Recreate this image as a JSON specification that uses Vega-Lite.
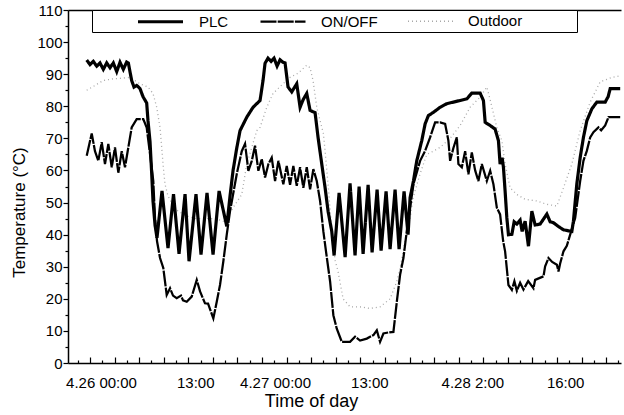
{
 "$schema": "https://vega.github.io/schema/vega-lite/v6.json",
 "width": 553, "height": 353,
 "autosize": {"type": "none"},
 "padding": {"left": 68, "top": 10, "right": 3, "bottom": 52},
 "config": {
  "font": "Liberation Sans",
  "view": {"stroke": null},
  "axis": {"domainColor": "black", "tickColor": "black", "labelColor": "black", "titleColor": "black", "titleFontWeight": "normal", "grid": false, "domainWidth": 1.5, "tickWidth": 1.2},
  "legend": {"titleOrient": "left", "titlePadding": 44, "orient": "none", "legendX": 24, "legendY": 0, "direction": "horizontal", "strokeColor": "black", "fillColor": "white", "padding": 2, "symbolType": "M-3,0H3", "symbolSize": 225, "symbolOffset": 13, "labelFontSize": 15, "labelOffset": 29, "columnPadding": 27, "labelLimit": 400}
 },
 "data": {"values": [
{"s":"PLC","t":-1.97,"v":94.4},{"s":"PLC","t":-1.52,"v":93},{"s":"PLC","t":-1.06,"v":94},{"s":"PLC","t":-0.59,"v":92.5},{"s":"PLC","t":-0.14,"v":93.5},{"s":"PLC","t":0.32,"v":91.5},{"s":"PLC","t":0.79,"v":93.5},{"s":"PLC","t":1.24,"v":92},{"s":"PLC","t":1.7,"v":93.5},{"s":"PLC","t":2.17,"v":90.8},{"s":"PLC","t":2.62,"v":93.7},{"s":"PLC","t":3.08,"v":91.5},{"s":"PLC","t":3.54,"v":93.8},{"s":"PLC","t":3.77,"v":93.5},{"s":"PLC","t":4.23,"v":88},{"s":"PLC","t":4.55,"v":86},{"s":"PLC","t":4.92,"v":86.5},{"s":"PLC","t":5.38,"v":85.5},{"s":"PLC","t":5.79,"v":83},{"s":"PLC","t":6.3,"v":81},{"s":"PLC","t":6.48,"v":75.5},{"s":"PLC","t":6.76,"v":69},{"s":"PLC","t":6.99,"v":59},{"s":"PLC","t":7.17,"v":50.5},{"s":"PLC","t":7.45,"v":43},{"s":"PLC","t":7.72,"v":39},{"s":"PLC","t":8.41,"v":53.6},{"s":"PLC","t":9.24,"v":35.8},{"s":"PLC","t":10.0,"v":52.6},{"s":"PLC","t":10.76,"v":34},{"s":"PLC","t":11.59,"v":52.6},{"s":"PLC","t":12.14,"v":31.7},{"s":"PLC","t":13.1,"v":52.6},{"s":"PLC","t":13.79,"v":33.8},{"s":"PLC","t":14.62,"v":53},{"s":"PLC","t":15.45,"v":33.8},{"s":"PLC","t":16.28,"v":53.6},{"s":"PLC","t":17.34,"v":42.6},{"s":"PLC","t":17.79,"v":52},{"s":"PLC","t":18.21,"v":60},{"s":"PLC","t":18.72,"v":67},{"s":"PLC","t":19.17,"v":72.4},{"s":"PLC","t":20.1,"v":76.6},{"s":"PLC","t":20.97,"v":79.7},{"s":"PLC","t":21.93,"v":81.8},{"s":"PLC","t":22.34,"v":88},{"s":"PLC","t":22.62,"v":93.4},{"s":"PLC","t":23.03,"v":95},{"s":"PLC","t":23.45,"v":94},{"s":"PLC","t":23.86,"v":95},{"s":"PLC","t":24.28,"v":92.5},{"s":"PLC","t":24.69,"v":94.5},{"s":"PLC","t":25.1,"v":93.7},{"s":"PLC","t":25.38,"v":93.5},{"s":"PLC","t":25.79,"v":86},{"s":"PLC","t":26.3,"v":84.5},{"s":"PLC","t":26.99,"v":87},{"s":"PLC","t":27.45,"v":79.7},{"s":"PLC","t":27.86,"v":82},{"s":"PLC","t":28.37,"v":84},{"s":"PLC","t":28.83,"v":78.7},{"s":"PLC","t":29.52,"v":78},{"s":"PLC","t":29.93,"v":70.3},{"s":"PLC","t":30.44,"v":62},{"s":"PLC","t":30.9,"v":54.6},{"s":"PLC","t":31.31,"v":47.3},{"s":"PLC","t":31.82,"v":41},{"s":"PLC","t":32.14,"v":33.5},{"s":"PLC","t":32.83,"v":53},{"s":"PLC","t":33.66,"v":33},{"s":"PLC","t":34.34,"v":56},{"s":"PLC","t":35.03,"v":33.5},{"s":"PLC","t":35.59,"v":55},{"s":"PLC","t":36.14,"v":34},{"s":"PLC","t":36.83,"v":55.5},{"s":"PLC","t":37.38,"v":34.5},{"s":"PLC","t":38.07,"v":54},{"s":"PLC","t":38.62,"v":35},{"s":"PLC","t":39.31,"v":53.5},{"s":"PLC","t":39.86,"v":35.5},{"s":"PLC","t":40.55,"v":54},{"s":"PLC","t":41.1,"v":35.5},{"s":"PLC","t":41.79,"v":53.5},{"s":"PLC","t":42.34,"v":40},{"s":"PLC","t":42.62,"v":51.5},{"s":"PLC","t":43.08,"v":56.7},{"s":"PLC","t":43.54,"v":63},{"s":"PLC","t":44.23,"v":69.3},{"s":"PLC","t":44.69,"v":74.5},{"s":"PLC","t":45.14,"v":77.1},{"s":"PLC","t":45.83,"v":78.1},{"s":"PLC","t":46.76,"v":79.7},{"s":"PLC","t":47.68,"v":80.8},{"s":"PLC","t":48.59,"v":81.3},{"s":"PLC","t":49.52,"v":81.8},{"s":"PLC","t":50.44,"v":82.3},{"s":"PLC","t":51.13,"v":84.1},{"s":"PLC","t":52.28,"v":84.1},{"s":"PLC","t":52.73,"v":81.8},{"s":"PLC","t":52.97,"v":75},{"s":"PLC","t":53.66,"v":74},{"s":"PLC","t":54.34,"v":72.9},{"s":"PLC","t":54.8,"v":69.3},{"s":"PLC","t":55.03,"v":62},{"s":"PLC","t":55.31,"v":64},{"s":"PLC","t":55.49,"v":61},{"s":"PLC","t":55.72,"v":53.6},{"s":"PLC","t":55.96,"v":45.2},{"s":"PLC","t":56.18,"v":40},{"s":"PLC","t":56.65,"v":40.1},{"s":"PLC","t":56.97,"v":44},{"s":"PLC","t":57.34,"v":43.3},{"s":"PLC","t":57.79,"v":44.5},{"s":"PLC","t":58.07,"v":41},{"s":"PLC","t":58.48,"v":44.2},{"s":"PLC","t":58.94,"v":36.4},{"s":"PLC","t":59.41,"v":47.3},{"s":"PLC","t":59.86,"v":43},{"s":"PLC","t":60.55,"v":43.3},{"s":"PLC","t":61.48,"v":46.4},{"s":"PLC","t":61.93,"v":44},{"s":"PLC","t":62.39,"v":43.7},{"s":"PLC","t":63.03,"v":42.6},{"s":"PLC","t":63.77,"v":41.5},{"s":"PLC","t":64.92,"v":41},{"s":"PLC","t":65.14,"v":44.2},{"s":"PLC","t":65.61,"v":55.8},{"s":"PLC","t":66.07,"v":64},{"s":"PLC","t":66.52,"v":70.3},{"s":"PLC","t":66.99,"v":75.5},{"s":"PLC","t":67.68,"v":79.2},{"s":"PLC","t":68.37,"v":81.3},{"s":"PLC","t":69.52,"v":81.3},{"s":"PLC","t":69.93,"v":83},{"s":"PLC","t":70.21,"v":85.5},{"s":"PLC","t":71.59,"v":85.5},
{"s":"ON/OFF","t":-1.97,"v":64.6},{"s":"ON/OFF","t":-1.28,"v":71.5},{"s":"ON/OFF","t":-0.83,"v":66},{"s":"ON/OFF","t":-0.37,"v":63},{"s":"ON/OFF","t":0.1,"v":68.8},{"s":"ON/OFF","t":0.55,"v":62},{"s":"ON/OFF","t":1.01,"v":68.3},{"s":"ON/OFF","t":1.48,"v":61},{"s":"ON/OFF","t":1.93,"v":67.2},{"s":"ON/OFF","t":2.39,"v":59.3},{"s":"ON/OFF","t":2.86,"v":66},{"s":"ON/OFF","t":3.31,"v":61},{"s":"ON/OFF","t":3.77,"v":67.2},{"s":"ON/OFF","t":4.23,"v":73.4},{"s":"ON/OFF","t":4.92,"v":76},{"s":"ON/OFF","t":5.83,"v":76},{"s":"ON/OFF","t":6.3,"v":73.4},{"s":"ON/OFF","t":6.76,"v":65.1},{"s":"ON/OFF","t":7.21,"v":56.7},{"s":"ON/OFF","t":7.45,"v":45},{"s":"ON/OFF","t":7.72,"v":38},{"s":"ON/OFF","t":8.14,"v":32.7},{"s":"ON/OFF","t":8.59,"v":29.6},{"s":"ON/OFF","t":9.06,"v":21.2},{"s":"ON/OFF","t":9.52,"v":23.3},{"s":"ON/OFF","t":9.93,"v":21},{"s":"ON/OFF","t":10.44,"v":20.2},{"s":"ON/OFF","t":11.03,"v":21},{"s":"ON/OFF","t":11.31,"v":19.5},{"s":"ON/OFF","t":11.82,"v":19.1},{"s":"ON/OFF","t":12.51,"v":20.7},{"s":"ON/OFF","t":13.2,"v":25.9},{"s":"ON/OFF","t":13.66,"v":22.3},{"s":"ON/OFF","t":14.34,"v":18.6},{"s":"ON/OFF","t":14.76,"v":18.5},{"s":"ON/OFF","t":15.49,"v":13.9},{"s":"ON/OFF","t":15.96,"v":19.1},{"s":"ON/OFF","t":16.41,"v":24.3},{"s":"ON/OFF","t":16.87,"v":31.7},{"s":"ON/OFF","t":17.34,"v":40},{"s":"ON/OFF","t":17.79,"v":47.3},{"s":"ON/OFF","t":18.72,"v":58.9},{"s":"ON/OFF","t":19.41,"v":66},{"s":"ON/OFF","t":19.86,"v":68.3},{"s":"ON/OFF","t":20.32,"v":59.9},{"s":"ON/OFF","t":20.79,"v":63},{"s":"ON/OFF","t":21.24,"v":67.7},{"s":"ON/OFF","t":21.7,"v":59.9},{"s":"ON/OFF","t":22.17,"v":63.6},{"s":"ON/OFF","t":22.62,"v":57.8},{"s":"ON/OFF","t":23.08,"v":62},{"s":"ON/OFF","t":23.54,"v":64},{"s":"ON/OFF","t":24.0,"v":56.7},{"s":"ON/OFF","t":24.46,"v":63},{"s":"ON/OFF","t":25.14,"v":55.7},{"s":"ON/OFF","t":25.61,"v":61.4},{"s":"ON/OFF","t":26.07,"v":55.5},{"s":"ON/OFF","t":26.52,"v":61.4},{"s":"ON/OFF","t":26.99,"v":55.2},{"s":"ON/OFF","t":27.45,"v":61},{"s":"ON/OFF","t":27.9,"v":54.6},{"s":"ON/OFF","t":28.37,"v":61},{"s":"ON/OFF","t":28.83,"v":54.1},{"s":"ON/OFF","t":29.28,"v":60.4},{"s":"ON/OFF","t":29.75,"v":56.7},{"s":"ON/OFF","t":30.21,"v":50.5},{"s":"ON/OFF","t":30.66,"v":41},{"s":"ON/OFF","t":31.13,"v":33},{"s":"ON/OFF","t":31.59,"v":25.4},{"s":"ON/OFF","t":32.04,"v":14.9},{"s":"ON/OFF","t":32.51,"v":10.7},{"s":"ON/OFF","t":33.2,"v":6.6},{"s":"ON/OFF","t":34.34,"v":6.6},{"s":"ON/OFF","t":35.03,"v":8.2},{"s":"ON/OFF","t":35.72,"v":7},{"s":"ON/OFF","t":36.65,"v":7.6},{"s":"ON/OFF","t":37.56,"v":8.7},{"s":"ON/OFF","t":38.03,"v":10.2},{"s":"ON/OFF","t":38.48,"v":6.6},{"s":"ON/OFF","t":38.94,"v":9.2},{"s":"ON/OFF","t":39.59,"v":9.5},{"s":"ON/OFF","t":40.32,"v":9.7},{"s":"ON/OFF","t":40.79,"v":19.1},{"s":"ON/OFF","t":41.24,"v":27.5},{"s":"ON/OFF","t":41.7,"v":32.7},{"s":"ON/OFF","t":42.39,"v":45.2},{"s":"ON/OFF","t":42.62,"v":48.4},{"s":"ON/OFF","t":43.08,"v":55.7},{"s":"ON/OFF","t":44.0,"v":63},{"s":"ON/OFF","t":44.69,"v":66.1},{"s":"ON/OFF","t":45.38,"v":70.3},{"s":"ON/OFF","t":46.07,"v":75},{"s":"ON/OFF","t":46.76,"v":75},{"s":"ON/OFF","t":47.45,"v":74.5},{"s":"ON/OFF","t":47.9,"v":69.3},{"s":"ON/OFF","t":48.14,"v":63},{"s":"ON/OFF","t":48.59,"v":67},{"s":"ON/OFF","t":49.06,"v":70.3},{"s":"ON/OFF","t":49.28,"v":62},{"s":"ON/OFF","t":49.75,"v":61},{"s":"ON/OFF","t":50.21,"v":66},{"s":"ON/OFF","t":50.66,"v":58.8},{"s":"ON/OFF","t":51.13,"v":65.6},{"s":"ON/OFF","t":51.59,"v":60},{"s":"ON/OFF","t":52.04,"v":56.7},{"s":"ON/OFF","t":52.51,"v":62},{"s":"ON/OFF","t":53.2,"v":56.7},{"s":"ON/OFF","t":53.66,"v":59.9},{"s":"ON/OFF","t":54.11,"v":55.7},{"s":"ON/OFF","t":54.58,"v":48.4},{"s":"ON/OFF","t":55.03,"v":46.3},{"s":"ON/OFF","t":55.45,"v":38},{"s":"ON/OFF","t":55.72,"v":34.8},{"s":"ON/OFF","t":56.18,"v":24.3},{"s":"ON/OFF","t":56.65,"v":22.8},{"s":"ON/OFF","t":57.0,"v":25.5},{"s":"ON/OFF","t":57.34,"v":22.5},{"s":"ON/OFF","t":57.79,"v":25},{"s":"ON/OFF","t":58.25,"v":22.9},{"s":"ON/OFF","t":58.9,"v":25.5},{"s":"ON/OFF","t":59.63,"v":23.3},{"s":"ON/OFF","t":59.86,"v":25.9},{"s":"ON/OFF","t":61.01,"v":27},{"s":"ON/OFF","t":61.24,"v":30.1},{"s":"ON/OFF","t":61.7,"v":32.7},{"s":"ON/OFF","t":62.21,"v":31.5},{"s":"ON/OFF","t":62.86,"v":30.6},{"s":"ON/OFF","t":63.08,"v":28.5},{"s":"ON/OFF","t":63.31,"v":31},{"s":"ON/OFF","t":63.77,"v":34.8},{"s":"ON/OFF","t":64.23,"v":36.5},{"s":"ON/OFF","t":64.69,"v":40},{"s":"ON/OFF","t":65.38,"v":45.2},{"s":"ON/OFF","t":66.07,"v":56.7},{"s":"ON/OFF","t":66.52,"v":63},{"s":"ON/OFF","t":66.99,"v":66.1},{"s":"ON/OFF","t":67.45,"v":70.3},{"s":"ON/OFF","t":67.9,"v":71.9},{"s":"ON/OFF","t":68.59,"v":73.4},{"s":"ON/OFF","t":68.97,"v":72.5},{"s":"ON/OFF","t":69.52,"v":74},{"s":"ON/OFF","t":69.97,"v":76.6},{"s":"ON/OFF","t":71.59,"v":76.6},
{"s":"Outdoor","t":-1.97,"v":85},{"s":"Outdoor","t":-0.83,"v":86.5},{"s":"Outdoor","t":0.28,"v":88},{"s":"Outdoor","t":1.52,"v":88.5},{"s":"Outdoor","t":2.62,"v":88.7},{"s":"Outdoor","t":4.0,"v":89},{"s":"Outdoor","t":5.38,"v":87},{"s":"Outdoor","t":6.48,"v":86},{"s":"Outdoor","t":7.17,"v":84},{"s":"Outdoor","t":7.68,"v":79.7},{"s":"Outdoor","t":8.14,"v":73.4},{"s":"Outdoor","t":8.37,"v":67.2},{"s":"Outdoor","t":8.59,"v":61},{"s":"Outdoor","t":8.83,"v":55.7},{"s":"Outdoor","t":9.24,"v":52},{"s":"Outdoor","t":10.21,"v":48},{"s":"Outdoor","t":11.59,"v":46},{"s":"Outdoor","t":12.97,"v":45},{"s":"Outdoor","t":14.34,"v":45},{"s":"Outdoor","t":15.72,"v":45},{"s":"Outdoor","t":17.1,"v":44},{"s":"Outdoor","t":18.21,"v":48.4},{"s":"Outdoor","t":19.41,"v":52.5},{"s":"Outdoor","t":20.1,"v":62},{"s":"Outdoor","t":20.79,"v":67.2},{"s":"Outdoor","t":21.48,"v":72.4},{"s":"Outdoor","t":21.93,"v":73.4},{"s":"Outdoor","t":22.86,"v":79.7},{"s":"Outdoor","t":23.72,"v":84},{"s":"Outdoor","t":25.1,"v":87},{"s":"Outdoor","t":26.07,"v":89},{"s":"Outdoor","t":27.17,"v":90.3},{"s":"Outdoor","t":28.37,"v":92.8},{"s":"Outdoor","t":28.83,"v":92},{"s":"Outdoor","t":29.24,"v":88},{"s":"Outdoor","t":29.75,"v":79.7},{"s":"Outdoor","t":30.66,"v":71.5},{"s":"Outdoor","t":30.9,"v":66.1},{"s":"Outdoor","t":31.35,"v":54.6},{"s":"Outdoor","t":31.86,"v":40},{"s":"Outdoor","t":32.28,"v":32},{"s":"Outdoor","t":32.69,"v":28.5},{"s":"Outdoor","t":33.38,"v":20},{"s":"Outdoor","t":34.34,"v":17.5},{"s":"Outdoor","t":35.72,"v":17.5},{"s":"Outdoor","t":37.1,"v":17},{"s":"Outdoor","t":38.48,"v":17.5},{"s":"Outdoor","t":39.86,"v":20},{"s":"Outdoor","t":40.79,"v":25.4},{"s":"Outdoor","t":41.24,"v":29.6},{"s":"Outdoor","t":41.93,"v":38},{"s":"Outdoor","t":42.62,"v":45},{"s":"Outdoor","t":43.03,"v":51.5},{"s":"Outdoor","t":44.0,"v":59},{"s":"Outdoor","t":44.92,"v":65},{"s":"Outdoor","t":45.83,"v":66},{"s":"Outdoor","t":46.76,"v":67.2},{"s":"Outdoor","t":48.14,"v":70},{"s":"Outdoor","t":49.52,"v":74},{"s":"Outdoor","t":50.9,"v":79.7},{"s":"Outdoor","t":52.28,"v":82.9},{"s":"Outdoor","t":53.2,"v":86},{"s":"Outdoor","t":53.66,"v":82},{"s":"Outdoor","t":54.58,"v":73.4},{"s":"Outdoor","t":55.27,"v":69.3},{"s":"Outdoor","t":55.72,"v":62},{"s":"Outdoor","t":56.41,"v":54.6},{"s":"Outdoor","t":57.34,"v":52.5},{"s":"Outdoor","t":58.48,"v":51},{"s":"Outdoor","t":60.1,"v":50.5},{"s":"Outdoor","t":61.38,"v":49.5},{"s":"Outdoor","t":62.86,"v":48.9},{"s":"Outdoor","t":63.77,"v":54.6},{"s":"Outdoor","t":64.92,"v":62},{"s":"Outdoor","t":66.07,"v":72.4},{"s":"Outdoor","t":67.45,"v":81.3},{"s":"Outdoor","t":68.83,"v":87.6},{"s":"Outdoor","t":70.44,"v":89},{"s":"Outdoor","t":71.59,"v":89.5}
 ]},
 "encoding": {
  "y": {"field": "v", "type": "quantitative", "scale": {"domain": [0, 110], "nice": false, "zero": false},
   "axis": {"title": "Temperature (°C)", "values": [0,5,10,15,20,25,30,35,40,45,50,55,60,65,70,75,80,85,90,95,100,105,110],
    "labelExpr": "datum.value % 10 === 0 ? datum.label : ''",
    "tickSize": {"condition": {"test": "datum.value % 10 === 0", "value": 5}, "value": 3},
    "labelFontSize": 15, "titleFontSize": 17, "labelPadding": 1, "titlePadding": 8, "labelFlush": false, "titleY": 202}},
  "color": {"field": "s", "type": "nominal", "scale": {"domain": ["PLC", "ON/OFF", "Outdoor"], "range": ["#000000", "#000000", "#a8a8a8"]},
   "legend": {"title": " ", "encode": {"symbols": {"update": {"shape": {"signal": "datum.label === 'Outdoor' ? 'M-3,0H3M18.9,0' : 'M-3,0H3'"}}}}}},
  "strokeDash": {"field": "s", "type": "nominal", "scale": {"domain": ["PLC", "ON/OFF", "Outdoor"], "range": [[1, 0], [16, 1.2], [1, 3]]},
   "legend": {"title": " ", "encode": {"symbols": {"update": {"shape": {"signal": "datum.label === 'Outdoor' ? 'M-3,0H3M18.9,0' : 'M-3,0H3'"}}}}}},
  "strokeWidth": {"field": "s", "type": "ordinal", "scale": {"domain": ["PLC", "ON/OFF", "Outdoor"], "range": [3.2, 1.3, 1.3]},
   "legend": {"title": " ", "encode": {"symbols": {"update": {"shape": {"signal": "datum.label === 'Outdoor' ? 'M-3,0H3M18.9,0' : 'M-3,0H3'"}}}}}}
 },
 "resolve": {"axis": {"x": "independent"}},
 "layer": [
  {"transform": [{"filter": "datum.s === 'Outdoor'"}],
   "mark": {"type": "line", "interpolate": "linear"},
   "encoding": {"x": {"field": "t", "type": "quantitative", "scale": {"domain": [-4.55, 71.7], "nice": false, "zero": false},
     "axis": {"orient": "top", "values": [], "ticks": false, "labels": false, "domain": true, "title": null, "grid": false}}}},
  {"transform": [{"filter": "datum.s === 'ON/OFF'"}],
   "mark": {"type": "line", "interpolate": "linear"},
   "encoding": {"x": {"field": "t", "type": "quantitative", "scale": {"domain": [-4.55, 71.7], "nice": false, "zero": false},
     "axis": {"orient": "bottom", "values": [0, 13, 24, 37, 51.2, 64], "ticks": false, "tickSize": 0, "domain": true, "labelPadding": 12, "labelFontSize": 15, "labelFlush": false, "labelOverlap": false,
      "labelExpr": "datum.value < 6 ? '4.26 00:00' : datum.value < 20 ? '13:00' : datum.value < 30 ? '4.27 00:00' : datum.value < 45 ? '13:00' : datum.value < 58 ? '4.28 2:00' : '16:00'",
      "title": "Time of day", "titleFontSize": 18, "titlePadding": 2, "titleX": 243, "titleAnchor": "start", "titleAlign": "center", "grid": false}}}},
  {"transform": [{"filter": "datum.s === 'PLC'"}],
   "mark": {"type": "line", "interpolate": "linear"},
   "encoding": {"x": {"field": "t", "type": "quantitative", "scale": {"domain": [-4.55, 71.7], "nice": false, "zero": false},
     "axis": {"orient": "bottom", "offset": -6, "values": [-1.517,1.872,5.261,8.65,12.039,15.428,18.817,22.206,25.595,28.984,32.373,35.762,39.151,42.54,45.929,49.318,52.707,56.096,59.485,62.874,66.263,69.652],
      "labels": false, "title": null, "domain": false, "ticks": true, "tickSize": 6, "grid": false}}}},
  {"transform": [{"filter": "datum.s === 'none'"}],
   "mark": {"type": "line", "interpolate": "linear"},
   "encoding": {"x": {"field": "t", "type": "quantitative", "scale": {"domain": [-4.55, 71.7], "nice": false, "zero": false},
     "axis": {"orient": "bottom", "offset": -3, "values": [-3.212,0.178,3.567,6.956,10.345,13.734,17.123,20.512,23.901,27.29,30.679,34.068,37.457,40.846,44.235,47.624,51.013,54.402,57.791,61.18,64.569,67.958,71.347],
      "labels": false, "title": null, "domain": false, "ticks": true, "tickSize": 3, "grid": false}}}}
 ]
}
